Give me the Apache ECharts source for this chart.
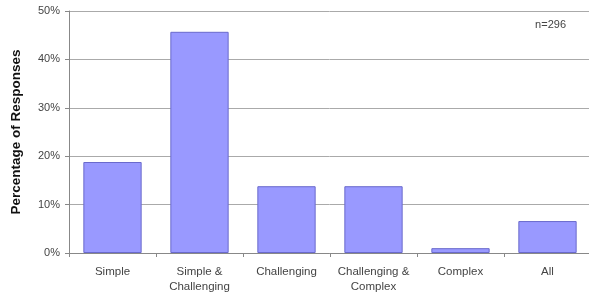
<!DOCTYPE html>
<html>
<head>
<meta charset="utf-8">
<style>
html, body { margin: 0; padding: 0; background: #fff; }
#chart { width: 589px; height: 292px; }
</style>
<script src="https://cdn.jsdelivr.net/npm/echarts@6/dist/echarts.min.js"></script>
</head>
<body>
<div id="chart"></div>
<script>
var categories = ['Simple', 'Simple &\nChallenging', 'Challenging', 'Challenging &\nComplex', 'Complex', 'All'];
var percents = [18.8, 45.7, 13.8, 13.8, 1.0, 6.6];
var yTicks = [0, 10, 20, 30, 40, 50];

var chart = echarts.init(document.getElementById('chart'));
chart.setOption({
    animation: false,
    grid: { left: 69, right: -2, top: 11, bottom: 39, outerBoundsMode: 'none', containLabel: false },
    graphic: [{
        type: 'text',
        right: 23,
        top: 19,
        style: { text: 'n=296', font: '11px Arial, "Liberation Sans", sans-serif', fill: '#444' }
    }],
    xAxis: {
        type: 'category',
        data: categories,
        axisLine: { lineStyle: { color: '#888', width: 1 } },
        axisTick: { show: true, alignWithLabel: false, length: 4, lineStyle: { color: '#888' } },
        axisLabel: {
            color: '#444',
            fontSize: 11.5,
            fontFamily: 'Arial, "Liberation Sans", sans-serif',
            lineHeight: 15,
            margin: 11,
            interval: 0
        }
    },
    yAxis: {
        type: 'value',
        min: yTicks[0],
        max: yTicks[yTicks.length - 1],
        interval: 10,
        name: 'Percentage of Responses',
        nameLocation: 'middle',
        nameGap: 46,
        nameTextStyle: {
            fontSize: 13.5,
            fontWeight: 'bold',
            color: '#111',
            fontFamily: 'Arial, "Liberation Sans", sans-serif'
        },
        axisLine: { show: true, lineStyle: { color: '#888' } },
        axisTick: { show: true, length: 4, lineStyle: { color: '#888' } },
        axisLabel: {
            color: '#444',
            fontSize: 11,
            fontFamily: 'Arial, "Liberation Sans", sans-serif',
            margin: 9,
            formatter: '{value}%'
        },
        splitLine: { lineStyle: { color: '#aaa', width: 1 } }
    },
    series: [{
        type: 'bar',
        data: percents,
        barCategoryGap: '33%',
        itemStyle: { color: '#9999ff', borderColor: '#6a6acc', borderWidth: 1 }
    }]
});
</script>
</body>
</html>
